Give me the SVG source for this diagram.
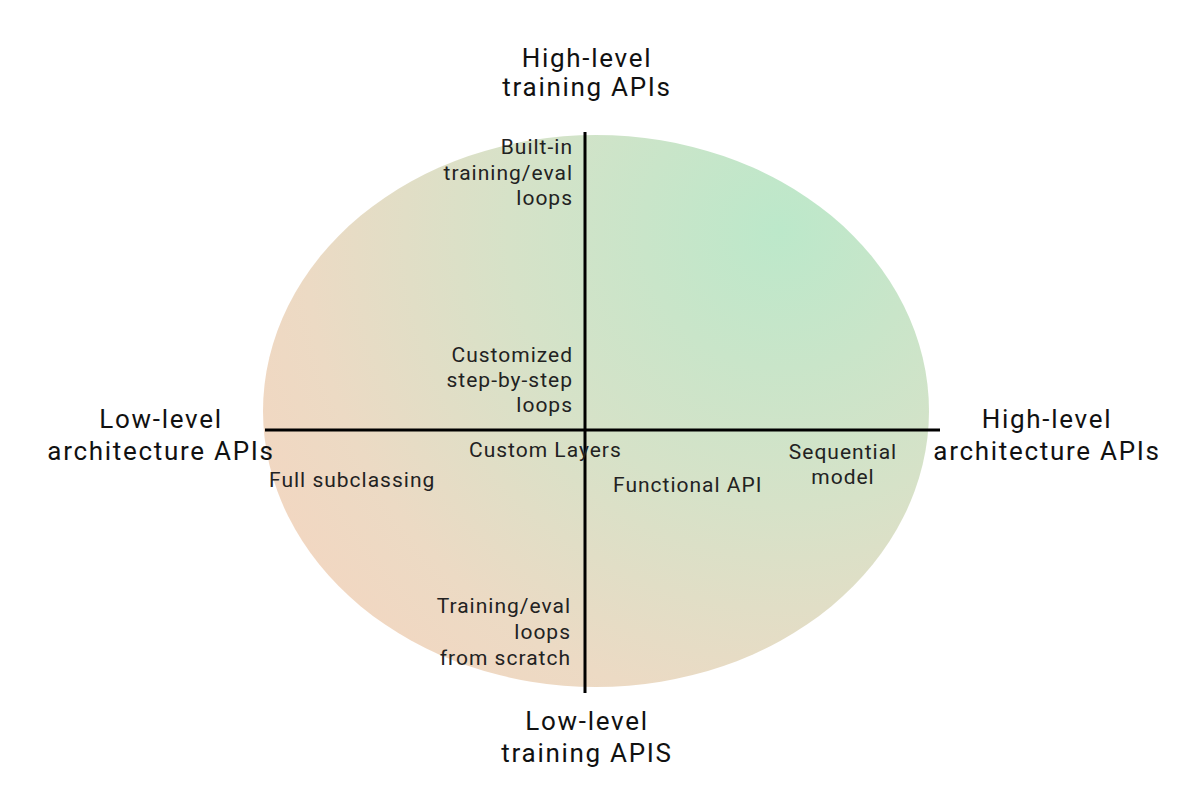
<svg xmlns="http://www.w3.org/2000/svg" width="1199" height="785" viewBox="0 0 1199 785">
<defs>
<radialGradient id="bg" gradientUnits="userSpaceOnUse" cx="800" cy="220" r="700" fx="780" fy="230">
<stop offset="0" stop-color="#bce8ca"/>
<stop offset="0.4" stop-color="#d6e2c8"/>
<stop offset="0.7" stop-color="#ecdac4"/>
<stop offset="1" stop-color="#f7d4bf"/>
</radialGradient>
<style>
.big{font-family:Roboto,"Liberation Sans",sans-serif;font-size:26px;letter-spacing:1.7px;fill:#111;text-anchor:middle}
.sm{font-family:Roboto,"Liberation Sans",sans-serif;font-size:21px;letter-spacing:1px;fill:#222}
.r{text-anchor:end}
.m{text-anchor:middle}
.ax{stroke:#000;stroke-width:3;fill:none}
</style>
</defs>
<rect width="1199" height="785" fill="#fff"/>
<g id="bg-ellipse"><ellipse cx="596" cy="411" rx="333" ry="276" fill="url(#bg)"/></g>
<g id="connectors">
<line class="ax" x1="585" y1="132" x2="585" y2="693"/>
<line class="ax" x1="265" y1="430" x2="940" y2="430"/>
</g>
<g id="top-label"><text class="big" x="587" y="67">High-level</text><text class="big" x="587" y="96">training APIs</text></g>
<g id="bottom-label"><text class="big" x="587" y="730">Low-level</text><text class="big" x="587" y="762">training APIS</text></g>
<g id="left-label"><text class="big" x="161" y="428">Low-level</text><text class="big" x="161" y="460">architecture APIs</text></g>
<g id="right-label"><text class="big" x="1047" y="428">High-level</text><text class="big" x="1047" y="460">architecture APIs</text></g>
<g id="builtin"><text class="sm r" x="573" y="154">Built-in</text><text class="sm r" x="573" y="180">training/eval</text><text class="sm r" x="573" y="205">loops</text></g>
<g id="customized"><text class="sm r" x="573" y="362">Customized</text><text class="sm r" x="573" y="387">step-by-step</text><text class="sm r" x="573" y="412">loops</text></g>
<g id="custom-layers"><text class="sm" x="469" y="457">Custom Layers</text></g>
<g id="full-subclassing"><text class="sm" x="269" y="487">Full subclassing</text></g>
<g id="functional"><text class="sm" x="613" y="492">Functional API</text></g>
<g id="sequential"><text class="sm m" x="843" y="459">Sequential</text><text class="sm m" x="843" y="484">model</text></g>
<g id="scratch"><text class="sm r" x="571" y="613">Training/eval</text><text class="sm r" x="571" y="639">loops</text><text class="sm r" x="571" y="665">from scratch</text></g>
</svg>
